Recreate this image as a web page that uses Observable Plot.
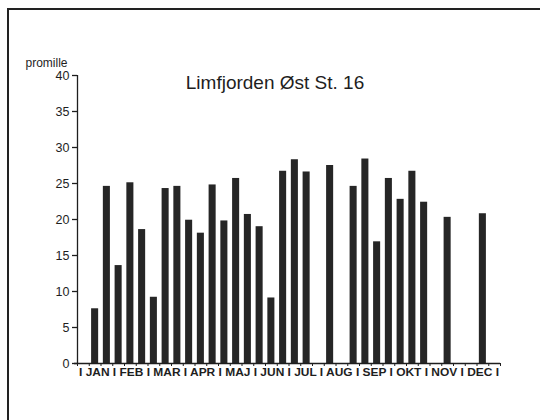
<!DOCTYPE html>
<html>
<head>
<meta charset="utf-8">
<script src="https://cdn.jsdelivr.net/npm/d3@7"></script>
<script src="https://cdn.jsdelivr.net/npm/@observablehq/plot@0.6"></script>
<style>
  html, body { margin: 0; padding: 0; background: #fff; }
  #wrap { position: relative; width: 540px; height: 420px; overflow: hidden; }
  #frame { position: absolute; left: 7px; top: 8px; width: 600px; height: 600px;
           border-top: 2px solid #222; border-left: 2px solid #222; pointer-events: none; }
  svg { font-family: "Liberation Sans", Arial, Helvetica, sans-serif; }
</style>
</head>
<body>
<div id="wrap"><div id="frame"></div></div>
<script>
// Month labels (three ten-day periods per month => 36 slots)
const months = ["JAN","FEB","MAR","APR","MAJ","JUN","JUL","AUG","SEP","OKT","NOV","DEC"];
// slot index (0..35) of each measurement
const periods = [1,2,3,4,5,6,7,8,9,10,11,12,13,14,15,16,17,18,19,21,23,24,25,26,27,28,29,31,34];
// salinity, promille
const salinity = [7.6,24.6,13.6,25.1,18.6,9.2,24.3,24.6,19.9,18.1,24.8,19.8,25.7,20.7,19.0,9.1,26.7,28.3,26.6,27.5,24.6,28.4,16.9,25.7,22.8,26.7,22.4,20.3,20.8];
const yTicks = [0,5,10,15,20,25,30,35,40];
const title = "Limfjorden Øst St. 16";
const yLabel = "promille";

const data = periods.map((p, i) => ({p, v: salinity[i]}));
const slotEdges = d3.range(0, months.length * 3 + 1);
const monthString = "I " + months.join(" I ") + " I";

const ink = "#1e1e1e";

const chart = Plot.plot({
  width: 540,
  height: 420,
  marginLeft: 77,
  marginRight: 40,
  marginTop: 75,
  marginBottom: 57,
  style: {fontFamily: "Liberation Sans, Arial, sans-serif", background: "transparent", color: ink},
  x: {domain: [0, months.length * 3]},
  y: {domain: [0, 40]},
  marks: [
    Plot.rectY(data, {x1: d => d.p + 0.2, x2: d => d.p + 0.8, y: "v", fill: "#262626"}),
    Plot.ruleX([0], {y1: 0, y2: 40, stroke: ink, strokeWidth: 1.3}),
    Plot.ruleY([0], {stroke: ink, strokeWidth: 1.3, insetLeft: -3}),
    Plot.axisY({ticks: yTicks, tickSize: 5, tickPadding: 3, fontSize: 12.5, label: null, stroke: ink, strokeWidth: 1.3, fill: ink}),
    Plot.axisX({ticks: slotEdges, tickSize: 3, tickFormat: () => "", label: null, stroke: ink}),
    Plot.text([monthString], {frameAnchor: "bottom", text: d => d, lineAnchor: "top", dy: 4.5, fontSize: 11, fontWeight: "bold", fill: ink}),
    Plot.text([yLabel], {frameAnchor: "top-left", text: d => d, textAnchor: "start", lineAnchor: "middle", dx: -52, dy: -12.5, fontSize: 12, fill: ink}),
    Plot.text([title], {frameAnchor: "top", text: d => d, lineAnchor: "middle", dx: -14, dy: 7.5, fontSize: 19, fill: ink})
  ]
});

// stretch month label string across the axis
d3.select(chart).selectAll("text").filter(function() { return this.textContent === monthString; })
  .attr("textLength", 420).attr("lengthAdjust", "spacingAndGlyphs");

document.getElementById("wrap").prepend(chart);
</script>
</body>
</html>
